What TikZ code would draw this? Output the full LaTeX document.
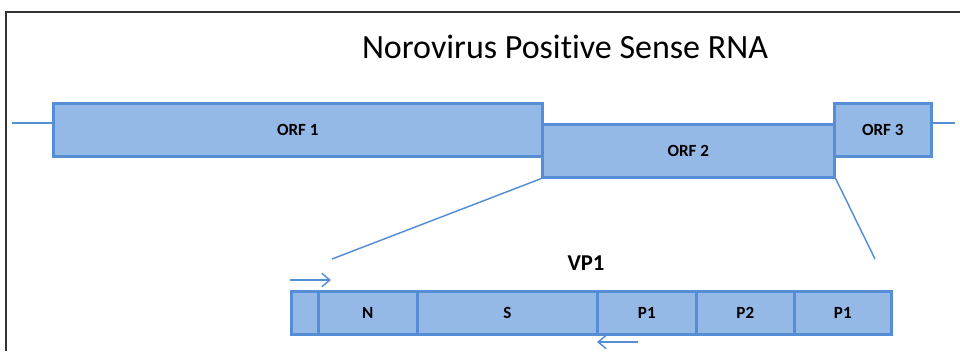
\documentclass[tikz,border=0pt]{standalone}
\usepackage{fontspec}
\setmainfont{Carlito}[Ligatures=NoCommon]
\usetikzlibrary{positioning,arrows.meta}
\definecolor{orfFill}{RGB}{149,185,230}
\definecolor{orfLine}{RGB}{85,142,213}
\begin{document}
\begin{tikzpicture}[x=0.75pt,y=-0.75pt,
  box/.style={draw=orfLine,fill=orfFill,line width=2pt,inner sep=0pt,anchor=north west,
    font=\bfseries\fontsize{12.8}{14}\selectfont},
  link/.style={orfLine,line width=1.1pt},
  primer/.style={orfLine,line width=1.1pt,-{Straight Barb[length=6pt,width=10pt]}}]
\pgfmathsetmacro{\orfh}{53*0.75}
\pgfmathsetmacro{\vph}{43*0.75}
\useasboundingbox (0,0) rectangle (960,351);
\draw[line width=1.6pt,black!80] (6,351) -- (6,12) -- (960,12);
\node[font=\fontsize{25.5}{30}\selectfont] (title) at (565,47) {Norovirus Positive Sense RNA};
\coordinate (rnaL) at (12,123);
\coordinate (rnaR) at (955,123);
\node[box,minimum width=489*0.75pt,minimum height=\orfh pt] (orf1) at (52,102) {ORF 1};
\node[box,minimum width=292*0.75pt,minimum height=\orfh pt] (orf2) at (541,123) {ORF 2};
\node[box,minimum width=97*0.75pt,minimum height=\orfh pt] (orf3) at (833,102) {ORF 3};
\draw[link] (rnaL) -- (orf1.west |- rnaL);
\draw[link] (orf3.east |- rnaR) -- (rnaR);
\coordinate (zoomL) at (332,259);
\coordinate (zoomR) at (875,259);
\draw[link] (orf2.south west) -- (zoomL);
\draw[link] (orf2.south east) -- (zoomR);
\node[font=\bfseries\fontsize{17}{19}\selectfont] (vp1) at (586,263) {VP1};
\foreach \nm/\x/\w/\lbl in {lead/290/27/,n/317/99/N,s/416/180/S,pa/596/99/P1,pb/695/98/P2,pc/793/97/P1}
  \node[box,minimum width=\w*0.75pt,minimum height=\vph pt] (seg\nm) at (\x,290) {\lbl};
\coordinate (fwdA) at (290,280);
\coordinate (fwdB) at (331,280);
\coordinate (revA) at (638,342);
\coordinate (revB) at (597,342);
\draw[primer] (fwdA) -- (fwdB);
\draw[primer] (revA) -- (revB);
\end{tikzpicture}
\end{document}
